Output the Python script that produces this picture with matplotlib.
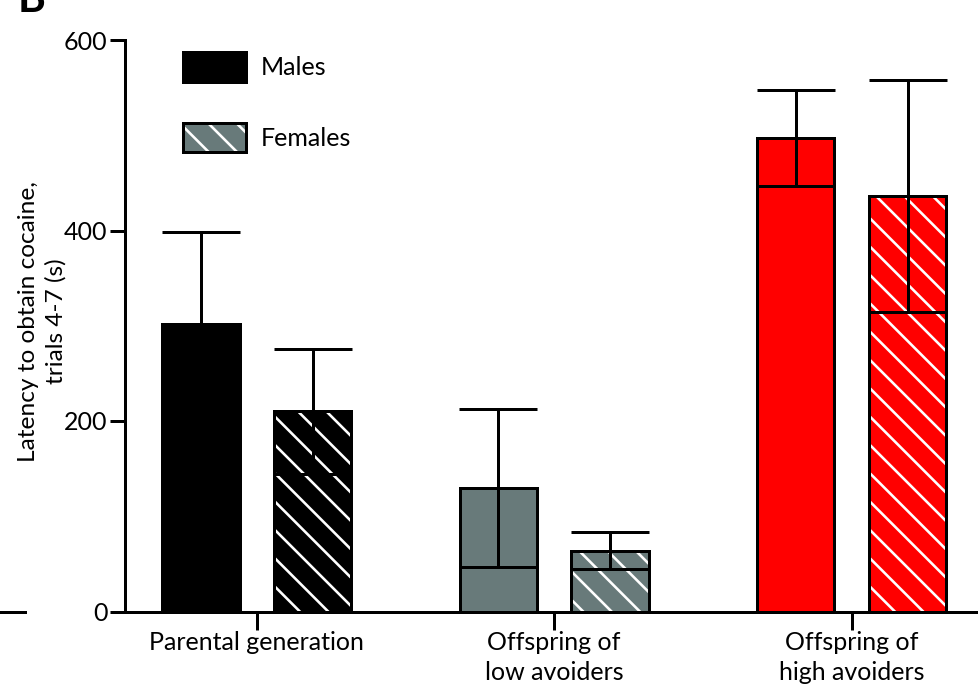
import matplotlib
matplotlib.use("Agg")
import matplotlib.pyplot as plt
from matplotlib.patches import Patch
from matplotlib.lines import Line2D
import numpy as np

groups = ["Parental generation", "Offspring of\nlow avoiders", "Offspring of\nhigh avoiders"]
male_means = [302, 130, 497]
male_err = [96, 83, 50]
female_means = [210, 64, 436]
female_err = [66, 19, 122]
bar_colors = ["#000000", "#687a7a", "#ff0000"]
yticks = [0, 200, 400, 600]
ylabel = "Latency to obtain cocaine,\ntrials 4-7 (s)"
legend_labels = ["Males", "Females"]

DPI = 170
plt.rcParams['font.family'] = ['Lato', 'DejaVu Sans']
plt.rcParams['hatch.linewidth'] = 1.1
LW = 1.27
FS = 10.6

fig = plt.figure(figsize=(978 / DPI, 688 / DPI), dpi=DPI)
W, H = 978, 688
ax = fig.add_axes([125 / W, 1 - 611.5 / H, (W - 125) / W, (611.5 - 40) / H])

x = np.arange(len(groups))
off = 0.188
bw = 0.26
HATCH = '\\\\'

ax.bar(x - off, male_means, bw, color=bar_colors, edgecolor='black', linewidth=LW, zorder=2)
ax.bar(x + off, female_means, bw, color=bar_colors, edgecolor='white', hatch=HATCH, linewidth=0, zorder=2)
ax.bar(x + off, female_means, bw, color='none', edgecolor='black', linewidth=LW, zorder=3)

ax.errorbar(x - off, male_means, yerr=male_err, fmt='none', ecolor='black', elinewidth=LW,
            capsize=16.5, capthick=LW, zorder=4)
ax.errorbar(x + off, female_means, yerr=female_err, fmt='none', ecolor='black', elinewidth=LW,
            capsize=16.5, capthick=LW, zorder=4)

ax.set_xlim(-0.443, 2.425)
ax.set_ylim(0, 600)
ax.set_yticks(yticks)
ax.set_xticks(x)
ax.set_xticklabels(groups, fontsize=FS, linespacing=1.4)
ax.tick_params(axis='y', labelsize=FS, length=6.4, width=LW, pad=1)
ax.tick_params(axis='x', length=7.6, width=LW, pad=0.5)
for s in ['top', 'right']:
    ax.spines[s].set_visible(False)
for s in ['left', 'bottom']:
    ax.spines[s].set_linewidth(LW)

ax.set_ylabel(ylabel, fontsize=10.3, linespacing=1.35)
ax.yaxis.set_label_coords(-(125 - 67) / (W - 125), 0.508)

handles = [
    Patch(facecolor=bar_colors[0], edgecolor='black', linewidth=LW),
    (Patch(facecolor=bar_colors[1], edgecolor='white', hatch=HATCH, linewidth=0),
     Patch(facecolor='none', edgecolor='black', linewidth=LW)),
]
ax.legend(handles, legend_labels, loc='upper left', bbox_to_anchor=(183 / W, 1 - 52 / H),
          bbox_transform=fig.transFigure, frameon=False, fontsize=FS, borderpad=0,
          borderaxespad=0, handlelength=2.5, handleheight=1.45, labelspacing=1.63,
          handletextpad=0.6)

fig.text(18 / W, 1 - 12 / H, "B", fontsize=18, fontweight='bold', va='baseline', ha='left')
fig.add_artist(Line2D([0, 25 / W], [1 - 611.5 / H] * 2, transform=fig.transFigure,
                      color='black', linewidth=LW))

fig.savefig("out.png", dpi=DPI)
